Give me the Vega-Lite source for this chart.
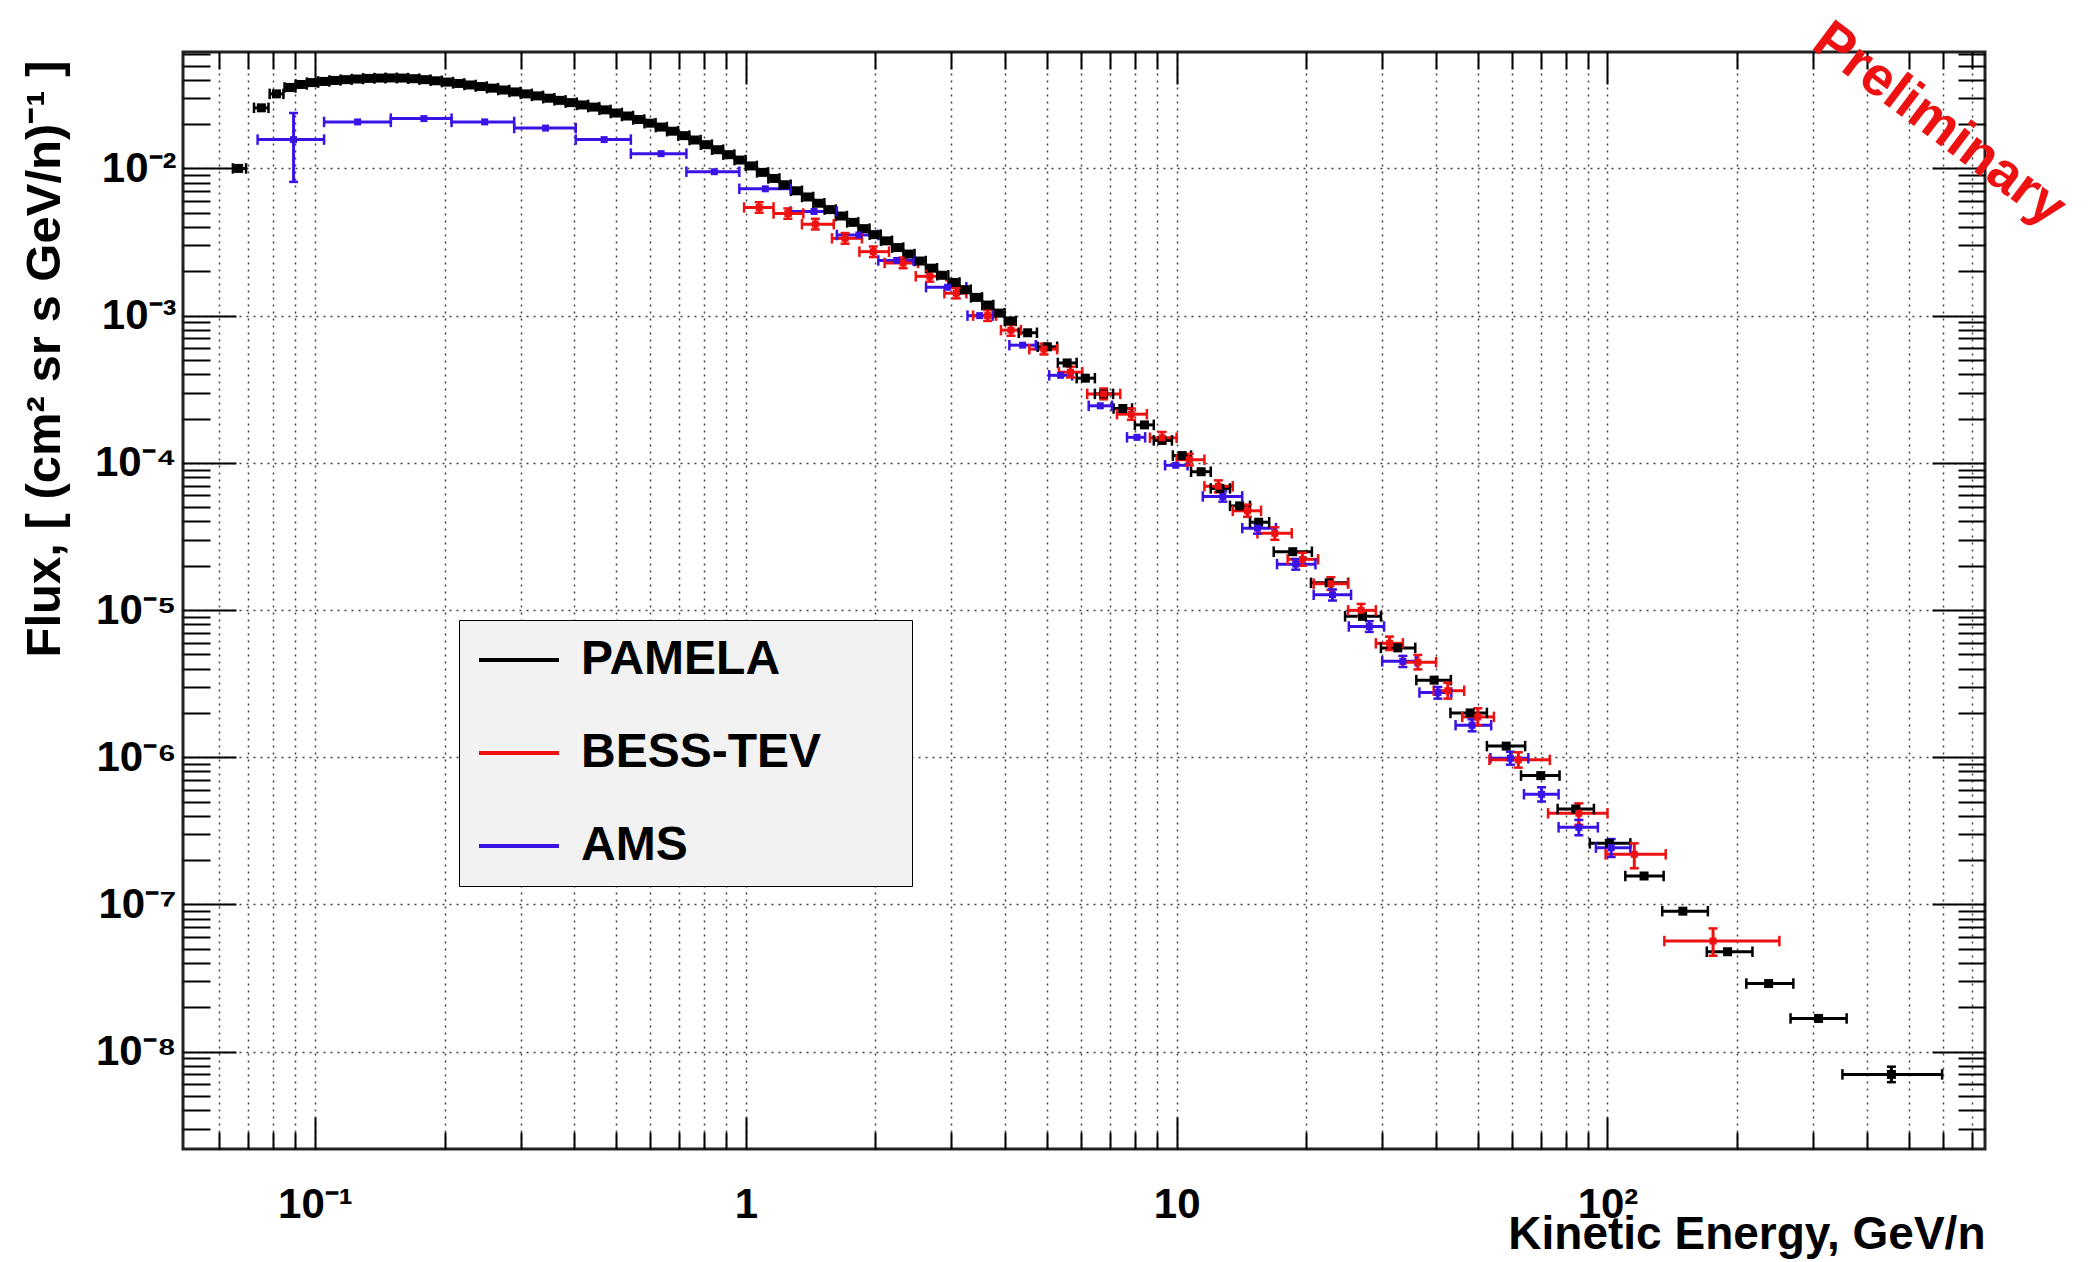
{
"$schema":"https://vega.github.io/schema/vega-lite/v6.json",
"width":1802,"height":1097,
"autosize":{"type":"none"},
"padding":{"left":183,"top":52,"right":113,"bottom":113},
"background":"#ffffff",
"config":{"view":{"stroke":"#222222","strokeWidth":3},"font":"Liberation Sans"},
"datasets":{
"pts":[
{"s":"PAMELA","E":0.0665,"Elo":0.0645,"Ehi":0.0692,"F":0.0100},
{"s":"PAMELA","E":0.0751,"Elo":0.0722,"Ehi":0.0780,"F":0.0258},
{"s":"PAMELA","E":0.0814,"Elo":0.0785,"Ehi":0.0845,"F":0.0321},
{"s":"PAMELA","E":0.0875,"Elo":0.0850,"Ehi":0.0901,"F":0.0355},
{"s":"PAMELA","E":0.0929,"Elo":0.0902,"Ehi":0.0957,"F":0.0372},
{"s":"PAMELA","E":0.0987,"Elo":0.0958,"Ehi":0.1017,"F":0.0383},
{"s":"PAMELA","E":0.1048,"Elo":0.1017,"Ehi":0.1079,"F":0.0390},
{"s":"PAMELA","E":0.1113,"Elo":0.1081,"Ehi":0.1146,"F":0.0396},
{"s":"PAMELA","E":0.1182,"Elo":0.1148,"Ehi":0.1217,"F":0.0401},
{"s":"PAMELA","E":0.1255,"Elo":0.1218,"Ehi":0.1293,"F":0.0405},
{"s":"PAMELA","E":0.1333,"Elo":0.1294,"Ehi":0.1373,"F":0.0409},
{"s":"PAMELA","E":0.1416,"Elo":0.1375,"Ehi":0.1458,"F":0.0411},
{"s":"PAMELA","E":0.1503,"Elo":0.1459,"Ehi":0.1548,"F":0.0412},
{"s":"PAMELA","E":0.1596,"Elo":0.1550,"Ehi":0.1644,"F":0.0411},
{"s":"PAMELA","E":0.1695,"Elo":0.1646,"Ehi":0.1746,"F":0.0407},
{"s":"PAMELA","E":0.1800,"Elo":0.1748,"Ehi":0.1854,"F":0.0401},
{"s":"PAMELA","E":0.1912,"Elo":0.1856,"Ehi":0.1969,"F":0.0394},
{"s":"PAMELA","E":0.2030,"Elo":0.1971,"Ehi":0.2091,"F":0.0386},
{"s":"PAMELA","E":0.2156,"Elo":0.2093,"Ehi":0.2221,"F":0.0378},
{"s":"PAMELA","E":0.2290,"Elo":0.2223,"Ehi":0.2359,"F":0.0369},
{"s":"PAMELA","E":0.2432,"Elo":0.2361,"Ehi":0.2505,"F":0.0360},
{"s":"PAMELA","E":0.2583,"Elo":0.2508,"Ehi":0.2660,"F":0.0351},
{"s":"PAMELA","E":0.2743,"Elo":0.2663,"Ehi":0.2825,"F":0.0341},
{"s":"PAMELA","E":0.2913,"Elo":0.2828,"Ehi":0.3000,"F":0.0331},
{"s":"PAMELA","E":0.3093,"Elo":0.3003,"Ehi":0.3186,"F":0.0321},
{"s":"PAMELA","E":0.3285,"Elo":0.3189,"Ehi":0.3384,"F":0.0311},
{"s":"PAMELA","E":0.3489,"Elo":0.3387,"Ehi":0.3594,"F":0.0300},
{"s":"PAMELA","E":0.3705,"Elo":0.3597,"Ehi":0.3816,"F":0.0290},
{"s":"PAMELA","E":0.3935,"Elo":0.3820,"Ehi":0.4053,"F":0.0280},
{"s":"PAMELA","E":0.4179,"Elo":0.4057,"Ehi":0.4304,"F":0.0270},
{"s":"PAMELA","E":0.4438,"Elo":0.4309,"Ehi":0.4571,"F":0.0261},
{"s":"PAMELA","E":0.4713,"Elo":0.4576,"Ehi":0.4854,"F":0.0250},
{"s":"PAMELA","E":0.5005,"Elo":0.4859,"Ehi":0.5155,"F":0.0238},
{"s":"PAMELA","E":0.5315,"Elo":0.5160,"Ehi":0.5474,"F":0.0227},
{"s":"PAMELA","E":0.5645,"Elo":0.5481,"Ehi":0.5814,"F":0.0215},
{"s":"PAMELA","E":0.5995,"Elo":0.5820,"Ehi":0.6175,"F":0.0203},
{"s":"PAMELA","E":0.6367,"Elo":0.6182,"Ehi":0.6558,"F":0.0191},
{"s":"PAMELA","E":0.6762,"Elo":0.6565,"Ehi":0.6965,"F":0.0179},
{"s":"PAMELA","E":0.7181,"Elo":0.6972,"Ehi":0.7396,"F":0.0167},
{"s":"PAMELA","E":0.7626,"Elo":0.7404,"Ehi":0.7855,"F":0.0156},
{"s":"PAMELA","E":0.8099,"Elo":0.7863,"Ehi":0.8342,"F":0.0145},
{"s":"PAMELA","E":0.8601,"Elo":0.8350,"Ehi":0.8859,"F":0.0134},
{"s":"PAMELA","E":0.9134,"Elo":0.8868,"Ehi":0.9408,"F":0.0124},
{"s":"PAMELA","E":0.9700,"Elo":0.9417,"Ehi":0.9991,"F":0.0114},
{"s":"PAMELA","E":1.030,"Elo":1.000,"Ehi":1.061,"F":0.0104},
{"s":"PAMELA","E":1.094,"Elo":1.062,"Ehi":1.127,"F":0.00940},
{"s":"PAMELA","E":1.162,"Elo":1.128,"Ehi":1.197,"F":0.00855},
{"s":"PAMELA","E":1.234,"Elo":1.198,"Ehi":1.271,"F":0.00775},
{"s":"PAMELA","E":1.311,"Elo":1.273,"Ehi":1.350,"F":0.00705},
{"s":"PAMELA","E":1.392,"Elo":1.351,"Ehi":1.434,"F":0.00640},
{"s":"PAMELA","E":1.478,"Elo":1.435,"Ehi":1.522,"F":0.00580},
{"s":"PAMELA","E":1.570,"Elo":1.524,"Ehi":1.617,"F":0.00525},
{"s":"PAMELA","E":1.667,"Elo":1.618,"Ehi":1.717,"F":0.00475},
{"s":"PAMELA","E":1.771,"Elo":1.719,"Ehi":1.824,"F":0.00430},
{"s":"PAMELA","E":1.881,"Elo":1.826,"Ehi":1.937,"F":0.00390},
{"s":"PAMELA","E":1.997,"Elo":1.939,"Ehi":2.057,"F":0.00355},
{"s":"PAMELA","E":2.121,"Elo":2.059,"Ehi":2.185,"F":0.00322},
{"s":"PAMELA","E":2.252,"Elo":2.186,"Ehi":2.320,"F":0.00290},
{"s":"PAMELA","E":2.392,"Elo":2.322,"Ehi":2.464,"F":0.00262},
{"s":"PAMELA","E":2.540,"Elo":2.466,"Ehi":2.616,"F":0.00235},
{"s":"PAMELA","E":2.698,"Elo":2.619,"Ehi":2.779,"F":0.00210},
{"s":"PAMELA","E":2.865,"Elo":2.782,"Ehi":2.951,"F":0.00188},
{"s":"PAMELA","E":3.043,"Elo":2.954,"Ehi":3.134,"F":0.00168},
{"s":"PAMELA","E":3.231,"Elo":3.137,"Ehi":3.328,"F":0.00150},
{"s":"PAMELA","E":3.432,"Elo":3.332,"Ehi":3.535,"F":0.00133},
{"s":"PAMELA","E":3.645,"Elo":3.539,"Ehi":3.754,"F":0.00118},
{"s":"PAMELA","E":3.871,"Elo":3.758,"Ehi":3.987,"F":0.00104},
{"s":"PAMELA","E":4.111,"Elo":3.991,"Ehi":4.234,"F":0.000920},
{"s":"PAMELA","E":4.51,"Elo":4.30,"Ehi":4.74,"F":0.000765},
{"s":"PAMELA","E":5.01,"Elo":4.76,"Ehi":5.28,"F":0.000614},
{"s":"PAMELA","E":5.57,"Elo":5.30,"Ehi":5.86,"F":0.000477},
{"s":"PAMELA","E":6.14,"Elo":5.86,"Ehi":6.46,"F":0.000376},
{"s":"PAMELA","E":6.77,"Elo":6.46,"Ehi":7.12,"F":0.000294},
{"s":"PAMELA","E":7.50,"Elo":7.14,"Ehi":7.88,"F":0.000234},
{"s":"PAMELA","E":8.42,"Elo":8.00,"Ehi":8.85,"F":0.000181},
{"s":"PAMELA","E":9.25,"Elo":8.85,"Ehi":9.75,"F":0.000142},
{"s":"PAMELA","E":10.3,"Elo":9.8,"Ehi":10.8,"F":0.000112},
{"s":"PAMELA","E":11.4,"Elo":10.8,"Ehi":12.0,"F":0.000087},
{"s":"PAMELA","E":12.6,"Elo":12.0,"Ehi":13.3,"F":0.000067},
{"s":"PAMELA","E":14.0,"Elo":13.3,"Ehi":14.8,"F":0.000051},
{"s":"PAMELA","E":15.5,"Elo":14.8,"Ehi":16.4,"F":0.0000395},
{"s":"PAMELA","E":18.6,"Elo":16.8,"Ehi":20.6,"F":0.0000249},
{"s":"PAMELA","E":22.6,"Elo":20.5,"Ehi":25.0,"F":0.0000153},
{"s":"PAMELA","E":27.0,"Elo":24.6,"Ehi":29.8,"F":0.00000906},
{"s":"PAMELA","E":32.6,"Elo":29.8,"Ehi":35.8,"F":0.00000553},
{"s":"PAMELA","E":39.6,"Elo":36.0,"Ehi":43.3,"F":0.00000334},
{"s":"PAMELA","E":48.0,"Elo":43.2,"Ehi":52.5,"F":0.0000020},
{"s":"PAMELA","E":58.2,"Elo":52.5,"Ehi":64.4,"F":0.00000119},
{"s":"PAMELA","E":70.0,"Elo":63.0,"Ehi":77.4,"F":7.5e-7},
{"s":"PAMELA","E":84.4,"Elo":76.6,"Ehi":93.0,"F":4.45e-7},
{"s":"PAMELA","E":101,"Elo":91,"Ehi":113,"F":2.6e-7},
{"s":"PAMELA","E":121.6,"Elo":110,"Ehi":135,"F":1.56e-7},
{"s":"PAMELA","E":149.6,"Elo":134,"Ehi":171,"F":9.0e-8},
{"s":"PAMELA","E":190,"Elo":170,"Ehi":217,"F":4.77e-8},
{"s":"PAMELA","E":236.6,"Elo":210,"Ehi":270,"F":2.9e-8},
{"s":"PAMELA","E":309,"Elo":266,"Ehi":359,"F":1.68e-8},
{"s":"PAMELA","E":456,"Elo":351,"Ehi":598,"F":7.0e-9,"Flo":6.2e-9,"Fhi":7.9e-9},
{"s":"AMS","E":0.0892,"Elo":0.0736,"Ehi":0.105,"F":0.0157,"Flo":0.0081,"Fhi":0.0238},
{"s":"AMS","E":0.1256,"Elo":0.105,"Ehi":0.150,"F":0.0207},
{"s":"AMS","E":0.179,"Elo":0.150,"Ehi":0.2075,"F":0.0218},
{"s":"AMS","E":0.2477,"Elo":0.2075,"Ehi":0.29,"F":0.0207},
{"s":"AMS","E":0.343,"Elo":0.29,"Ehi":0.403,"F":0.0188},
{"s":"AMS","E":0.469,"Elo":0.403,"Ehi":0.541,"F":0.0157},
{"s":"AMS","E":0.636,"Elo":0.541,"Ehi":0.728,"F":0.0126},
{"s":"AMS","E":0.845,"Elo":0.728,"Ehi":0.966,"F":0.0095},
{"s":"AMS","E":1.11,"Elo":0.966,"Ehi":1.27,"F":0.00727},
{"s":"AMS","E":1.44,"Elo":1.27,"Ehi":1.627,"F":0.0051},
{"s":"AMS","E":1.83,"Elo":1.627,"Ehi":2.03,"F":0.00353},
{"s":"AMS","E":2.24,"Elo":2.03,"Ehi":2.45,"F":0.00237},
{"s":"AMS","E":2.94,"Elo":2.62,"Ehi":3.25,"F":0.00156},
{"s":"AMS","E":3.49,"Elo":3.27,"Ehi":3.74,"F":0.0010},
{"s":"AMS","E":4.39,"Elo":4.09,"Ehi":4.71,"F":0.00063},
{"s":"AMS","E":5.38,"Elo":5.06,"Ehi":5.72,"F":0.000393},
{"s":"AMS","E":6.65,"Elo":6.25,"Ehi":7.08,"F":0.000244},
{"s":"AMS","E":8.09,"Elo":7.67,"Ehi":8.45,"F":0.000149},
{"s":"AMS","E":9.95,"Elo":9.4,"Ehi":10.6,"F":0.0000962},
{"s":"AMS","E":12.8,"Elo":11.5,"Ehi":14.2,"F":0.0000591,"Flo":0.0000545,"Fhi":0.000064},
{"s":"AMS","E":15.4,"Elo":14.2,"Ehi":17.0,"F":0.000036,"Flo":0.000033,"Fhi":0.000039},
{"s":"AMS","E":18.9,"Elo":17.1,"Ehi":21.0,"F":0.0000205,"Flo":0.0000188,"Fhi":0.0000222},
{"s":"AMS","E":23.0,"Elo":20.8,"Ehi":25.4,"F":0.0000127,"Flo":0.0000116,"Fhi":0.0000138},
{"s":"AMS","E":28.0,"Elo":25.1,"Ehi":30.3,"F":0.00000773,"Flo":0.0000071,"Fhi":0.0000084},
{"s":"AMS","E":33.5,"Elo":30.0,"Ehi":35.9,"F":0.00000448,"Flo":0.0000041,"Fhi":0.00000488},
{"s":"AMS","E":40.4,"Elo":36.6,"Ehi":43.4,"F":0.00000275,"Flo":0.0000025,"Fhi":0.000003},
{"s":"AMS","E":48.5,"Elo":44.4,"Ehi":53.7,"F":0.00000165,"Flo":0.0000015,"Fhi":0.00000181},
{"s":"AMS","E":59.5,"Elo":53.5,"Ehi":65.5,"F":9.85e-7,"Flo":8.9e-7,"Fhi":1.09e-6},
{"s":"AMS","E":70.3,"Elo":64.0,"Ehi":77.0,"F":5.6e-7,"Flo":5.0e-7,"Fhi":6.25e-7},
{"s":"AMS","E":85.8,"Elo":77.0,"Ehi":95.0,"F":3.34e-7,"Flo":2.95e-7,"Fhi":3.75e-7},
{"s":"AMS","E":102,"Elo":94,"Ehi":113,"F":2.43e-7,"Flo":2.1e-7,"Fhi":2.78e-7},
{"s":"BESS-TEV","E":1.074,"Elo":0.991,"Ehi":1.16,"F":0.00543,"Flo":0.0050,"Fhi":0.0059},
{"s":"BESS-TEV","E":1.252,"Elo":1.16,"Ehi":1.36,"F":0.00494,"Flo":0.00455,"Fhi":0.00535},
{"s":"BESS-TEV","E":1.45,"Elo":1.35,"Ehi":1.60,"F":0.00418,"Flo":0.00385,"Fhi":0.00455},
{"s":"BESS-TEV","E":1.70,"Elo":1.585,"Ehi":1.86,"F":0.00335,"Flo":0.00308,"Fhi":0.00364},
{"s":"BESS-TEV","E":1.977,"Elo":1.835,"Ehi":2.15,"F":0.00272,"Flo":0.0025,"Fhi":0.00295},
{"s":"BESS-TEV","E":2.318,"Elo":2.10,"Ehi":2.51,"F":0.00228,"Flo":0.0021,"Fhi":0.00248},
{"s":"BESS-TEV","E":2.673,"Elo":2.48,"Ehi":2.92,"F":0.00185,"Flo":0.0017,"Fhi":0.00201},
{"s":"BESS-TEV","E":3.08,"Elo":2.89,"Ehi":3.25,"F":0.00142,"Flo":0.00131,"Fhi":0.00154},
{"s":"BESS-TEV","E":3.642,"Elo":3.37,"Ehi":3.81,"F":0.0010,"Flo":0.00092,"Fhi":0.00109},
{"s":"BESS-TEV","E":4.125,"Elo":3.91,"Ehi":4.35,"F":0.000797,"Flo":0.00073,"Fhi":0.00087},
{"s":"BESS-TEV","E":4.92,"Elo":4.55,"Ehi":5.28,"F":0.000592,"Flo":0.000545,"Fhi":0.000645},
{"s":"BESS-TEV","E":5.67,"Elo":5.33,"Ehi":6.04,"F":0.000413,"Flo":0.00038,"Fhi":0.00045},
{"s":"BESS-TEV","E":6.77,"Elo":6.2,"Ehi":7.4,"F":0.000294,"Flo":0.00027,"Fhi":0.00032},
{"s":"BESS-TEV","E":7.85,"Elo":7.27,"Ehi":8.53,"F":0.000214,"Flo":0.000196,"Fhi":0.000234},
{"s":"BESS-TEV","E":9.25,"Elo":8.67,"Ehi":10.0,"F":0.000148,"Flo":0.000136,"Fhi":0.000162},
{"s":"BESS-TEV","E":10.7,"Elo":10.0,"Ehi":11.6,"F":0.000105,"Flo":0.000096,"Fhi":0.000115},
{"s":"BESS-TEV","E":12.5,"Elo":11.6,"Ehi":13.5,"F":0.0000693,"Flo":0.000063,"Fhi":0.000076},
{"s":"BESS-TEV","E":14.6,"Elo":13.5,"Ehi":15.7,"F":0.0000472,"Flo":0.000043,"Fhi":0.000052},
{"s":"BESS-TEV","E":16.9,"Elo":15.4,"Ehi":18.5,"F":0.0000332,"Flo":0.00003,"Fhi":0.0000365},
{"s":"BESS-TEV","E":19.6,"Elo":18.1,"Ehi":21.3,"F":0.0000221,"Flo":0.00002,"Fhi":0.0000245},
{"s":"BESS-TEV","E":22.8,"Elo":20.8,"Ehi":25.0,"F":0.0000151,"Flo":0.0000137,"Fhi":0.0000167},
{"s":"BESS-TEV","E":26.8,"Elo":25.0,"Ehi":29.0,"F":0.00000995,"Flo":0.000009,"Fhi":0.000011},
{"s":"BESS-TEV","E":31.2,"Elo":29.0,"Ehi":33.5,"F":0.00000594,"Flo":0.00000535,"Fhi":0.0000066},
{"s":"BESS-TEV","E":36.3,"Elo":33.5,"Ehi":40.0,"F":0.00000442,"Flo":0.00000395,"Fhi":0.00000495},
{"s":"BESS-TEV","E":42.6,"Elo":39.5,"Ehi":46.5,"F":0.00000283,"Flo":0.0000025,"Fhi":0.0000032},
{"s":"BESS-TEV","E":50.0,"Elo":46.0,"Ehi":54.5,"F":0.00000188,"Flo":0.00000165,"Fhi":0.00000215},
{"s":"BESS-TEV","E":62.1,"Elo":53.2,"Ehi":73.5,"F":9.6e-7,"Flo":8.5e-7,"Fhi":1.08e-6},
{"s":"BESS-TEV","E":85.8,"Elo":72.8,"Ehi":100,"F":4.16e-7,"Flo":3.47e-7,"Fhi":4.86e-7},
{"s":"BESS-TEV","E":115.4,"Elo":99,"Ehi":136.5,"F":2.19e-7,"Flo":1.76e-7,"Fhi":2.6e-7},
{"s":"BESS-TEV","E":175.8,"Elo":135.5,"Ehi":250.6,"F":5.64e-8,"Flo":4.48e-8,"Fhi":6.87e-8}
],
"ann":[{"t":"Preliminary","E":590,"F":0.0200}]
},
"data":{"name":"pts"},
"resolve":{"axis":{"x":"independent","y":"independent"}},
"layer":[
{"mark":{"type":"rule","strokeWidth":3},
 "encoding":{
  "x":{"field":"Elo","type":"quantitative","scale":{"type":"log","domain":[0.0494,752],"nice":false},
   "axis":{"orient":"bottom","values":[0.06,0.07,0.08,0.09,0.1,0.2,0.3,0.4,0.5,0.6,0.7,0.8,0.9,1,2,3,4,5,6,7,8,9,10,20,30,40,50,60,70,80,90,100,200,300,400,500,600,700],
    "labelExpr":"datum.value==0.1?'10⁻¹':datum.value==1?'1':datum.value==10?'10':datum.value==100?'10²':''",
    "labelFont":"Liberation Sans","labelFontSize":42,"labelFontWeight":"bold","labelColor":"#000000","labelPadding":67,"labelFlush":false,"labelOverlap":false,"labelBound":false,
    "tickSize":{"condition":{"test":"abs(log(datum.value)/LN10-round(log(datum.value)/LN10))<0.001","value":-32},"value":-17},
    "tickWidth":2,"tickColor":"#000000","domain":false,
    "grid":true,"gridDash":[2,5],"gridColor":"#000000","gridWidth":1.5,"gridOpacity":0.75,
    "title":"Kinetic Energy, GeV/n","titleFont":"Liberation Sans","titleFontSize":46,"titleFontWeight":"bold","titleColor":"#000000",
    "titleX":1802,"titleY":99,"titleAlign":"right","titleAnchor":"end","titleBaseline":"alphabetic"}},
  "x2":{"field":"Ehi"},
  "y":{"field":"F","type":"quantitative","scale":{"type":"log","domain":[2.18e-9,0.0618],"nice":false},
   "axis":{"orient":"left","values":[3e-9,4e-9,5e-9,6e-9,7e-9,8e-9,9e-9,1e-8,2e-8,3e-8,4e-8,5e-8,6e-8,7e-8,8e-8,9e-8,1e-7,2e-7,3e-7,4e-7,5e-7,6e-7,7e-7,8e-7,9e-7,1e-6,2e-6,3e-6,4e-6,5e-6,6e-6,7e-6,8e-6,9e-6,1e-5,2e-5,3e-5,4e-5,5e-5,6e-5,7e-5,8e-5,9e-5,1e-4,2e-4,3e-4,4e-4,5e-4,6e-4,7e-4,8e-4,9e-4,1e-3,2e-3,3e-3,4e-3,5e-3,6e-3,7e-3,8e-3,9e-3,1e-2,2e-2,3e-2,4e-2,5e-2,6e-2],
    "labelExpr":"datum.value==0.01?'10⁻²':datum.value==0.001?'10⁻³':datum.value==0.0001?'10⁻⁴':datum.value==0.00001?'10⁻⁵':datum.value==0.000001?'10⁻⁶':datum.value==1e-7?'10⁻⁷':datum.value==1e-8?'10⁻⁸':''",
    "labelFont":"Liberation Sans","labelFontSize":42,"labelFontWeight":"bold","labelColor":"#000000","labelPadding":60,"labelFlush":false,"labelOverlap":false,"labelBound":false,"labelBaseline":"middle",
    "tickSize":{"condition":{"test":"abs(log(datum.value)/LN10-round(log(datum.value)/LN10))<0.001","value":-53},"value":-27},
    "tickWidth":2,"tickColor":"#000000","domain":false,
    "grid":true,"gridDash":[2,5],"gridColor":"#000000","gridWidth":1.5,
    "gridOpacity":{"condition":{"test":"abs(log(datum.value)/LN10-round(log(datum.value)/LN10))<0.001","value":0.75},"value":0},
    "title":"Flux,  [ (cm² sr s GeV/n)⁻¹ ]","titleFont":"Liberation Sans","titleFontSize":49,"titleFontWeight":"bold","titleColor":"#000000",
    "titleAngle":-90,"titleX":-139,"titleY":8,"titleAlign":"right","titleAnchor":"end","titleBaseline":"middle"}},
  "color":{"field":"s","type":"nominal","scale":{"domain":["PAMELA","BESS-TEV","AMS"],"range":["#000000","#ee1111","#3a12e6"]},
   "legend":{"orient":"none","legendX":276,"legendY":568,"direction":"vertical",
    "title":" ","titleOrient":"right","titleFontSize":10,"titlePadding":75,
    "symbolType":"M-2,0H2","symbolSize":1600,"symbolStrokeWidth":4,"symbolOffset":20,
    "labelFont":"Liberation Sans","labelFontSize":48,"labelFontWeight":"bold","labelColor":"#000000","labelOffset":38,"labelLimit":600,
    "rowPadding":45,"padding":16,"fillColor":"#f2f2f2","strokeColor":"#000000"}}
 }},
{"transform":[{"filter":"isValid(datum.Flo)"}],
 "mark":{"type":"rule","strokeWidth":3},
 "encoding":{
  "x":{"field":"E","type":"quantitative","scale":{"type":"log","domain":[0.0494,752],"nice":false},"axis":null},
  "y":{"field":"Flo","type":"quantitative","scale":{"type":"log","domain":[2.18e-9,0.0618],"nice":false},"axis":null},
  "y2":{"field":"Fhi"},
  "color":{"field":"s","type":"nominal"}
 }},
{"mark":{"type":"point","shape":"stroke","angle":90,"size":110,"strokeWidth":2.5,"filled":false,"opacity":1},
 "encoding":{
  "x":{"field":"Elo","type":"quantitative","scale":{"type":"log","domain":[0.0494,752],"nice":false},"axis":null},
  "y":{"field":"F","type":"quantitative","scale":{"type":"log","domain":[2.18e-9,0.0618],"nice":false},"axis":null},
  "color":{"field":"s","type":"nominal"}
 }},
{"mark":{"type":"point","shape":"stroke","angle":90,"size":110,"strokeWidth":2.5,"filled":false,"opacity":1},
 "encoding":{
  "x":{"field":"Ehi","type":"quantitative","scale":{"type":"log","domain":[0.0494,752],"nice":false},"axis":null},
  "y":{"field":"F","type":"quantitative","scale":{"type":"log","domain":[2.18e-9,0.0618],"nice":false},"axis":null},
  "color":{"field":"s","type":"nominal"}
 }},
{"transform":[{"filter":"isValid(datum.Flo)"}],
 "mark":{"type":"point","shape":"stroke","size":81,"strokeWidth":2.5,"filled":false,"opacity":1},
 "encoding":{
  "x":{"field":"E","type":"quantitative","scale":{"type":"log","domain":[0.0494,752],"nice":false},"axis":null},
  "y":{"field":"Flo","type":"quantitative","scale":{"type":"log","domain":[2.18e-9,0.0618],"nice":false},"axis":null},
  "color":{"field":"s","type":"nominal"}
 }},
{"transform":[{"filter":"isValid(datum.Fhi)"}],
 "mark":{"type":"point","shape":"stroke","size":81,"strokeWidth":2.5,"filled":false,"opacity":1},
 "encoding":{
  "x":{"field":"E","type":"quantitative","scale":{"type":"log","domain":[0.0494,752],"nice":false},"axis":null},
  "y":{"field":"Fhi","type":"quantitative","scale":{"type":"log","domain":[2.18e-9,0.0618],"nice":false},"axis":null},
  "color":{"field":"s","type":"nominal"}
 }},
{"mark":{"type":"point","shape":"square","filled":true,"opacity":1},
 "encoding":{
  "x":{"field":"E","type":"quantitative","scale":{"type":"log","domain":[0.0494,752],"nice":false},
   "axis":{"orient":"top","values":[0.06,0.07,0.08,0.09,0.1,0.2,0.3,0.4,0.5,0.6,0.7,0.8,0.9,1,2,3,4,5,6,7,8,9,10,20,30,40,50,60,70,80,90,100,200,300,400,500,600,700],
    "labels":false,"grid":false,"domain":false,"title":null,"tickWidth":2,"tickColor":"#000000",
    "tickSize":{"condition":{"test":"abs(log(datum.value)/LN10-round(log(datum.value)/LN10))<0.001","value":-32},"value":-17}}},
  "y":{"field":"F","type":"quantitative","scale":{"type":"log","domain":[2.18e-9,0.0618],"nice":false},
   "axis":{"orient":"right","values":[3e-9,4e-9,5e-9,6e-9,7e-9,8e-9,9e-9,1e-8,2e-8,3e-8,4e-8,5e-8,6e-8,7e-8,8e-8,9e-8,1e-7,2e-7,3e-7,4e-7,5e-7,6e-7,7e-7,8e-7,9e-7,1e-6,2e-6,3e-6,4e-6,5e-6,6e-6,7e-6,8e-6,9e-6,1e-5,2e-5,3e-5,4e-5,5e-5,6e-5,7e-5,8e-5,9e-5,1e-4,2e-4,3e-4,4e-4,5e-4,6e-4,7e-4,8e-4,9e-4,1e-3,2e-3,3e-3,4e-3,5e-3,6e-3,7e-3,8e-3,9e-3,1e-2,2e-2,3e-2,4e-2,5e-2,6e-2],
    "labels":false,"grid":false,"domain":false,"title":null,"tickWidth":2,"tickColor":"#000000",
    "tickSize":{"condition":{"test":"abs(log(datum.value)/LN10-round(log(datum.value)/LN10))<0.001","value":-53},"value":-27}}},
  "color":{"field":"s","type":"nominal"},
  "size":{"condition":{"test":"datum.s=='PAMELA'","value":81},"value":49}
 }},
{"data":{"name":"ann"},
 "mark":{"type":"text","angle":37,"color":"#ee1111","fontSize":55,"fontWeight":"bold","font":"Liberation Sans","align":"center","baseline":"middle"},
 "encoding":{
  "x":{"field":"E","type":"quantitative","scale":{"type":"log","domain":[0.0494,752],"nice":false},"axis":null},
  "y":{"field":"F","type":"quantitative","scale":{"type":"log","domain":[2.18e-9,0.0618],"nice":false},"axis":null},
  "text":{"field":"t"}
 }}
]
}
